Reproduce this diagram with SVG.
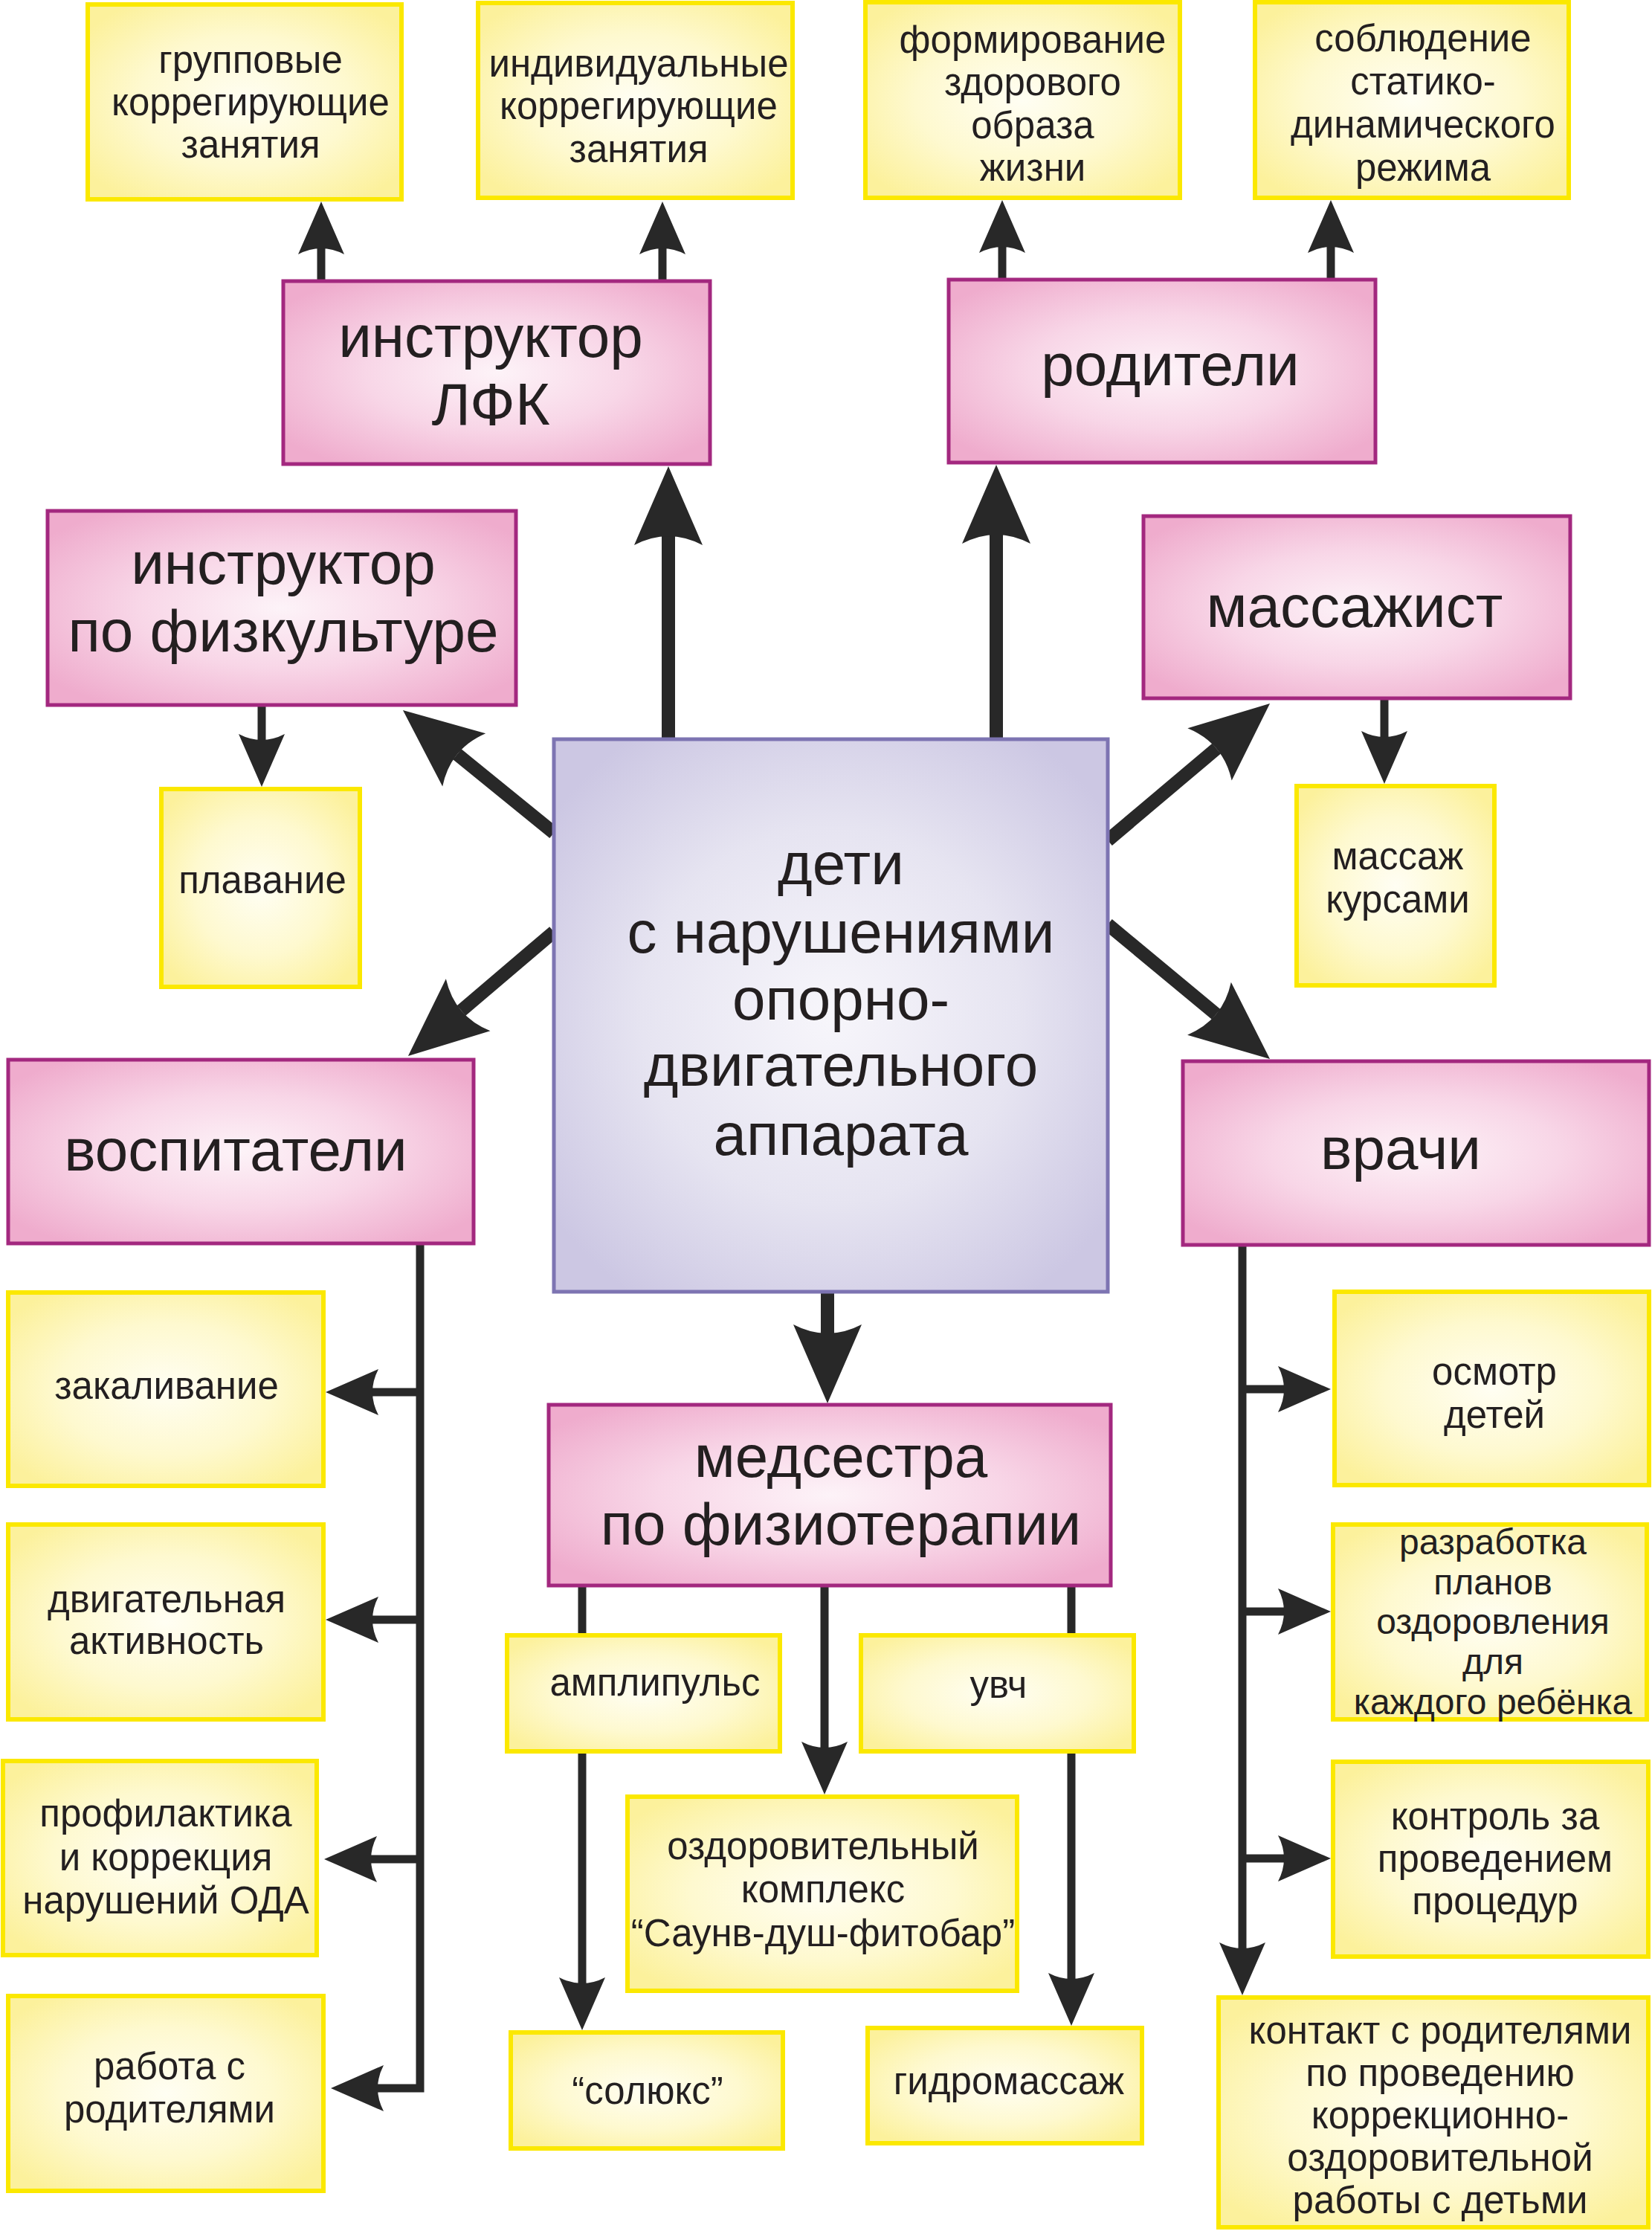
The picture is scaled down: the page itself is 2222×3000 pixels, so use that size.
<svg xmlns="http://www.w3.org/2000/svg" width="2222" height="3000" viewBox="0 0 2222 3000">
<defs>
<radialGradient id="gp" cx="50%" cy="50%" r="62%">
<stop offset="0" stop-color="#fdf3f8"/>
<stop offset="0.5" stop-color="#f8d6e7"/>
<stop offset="1" stop-color="#efaccd"/>
</radialGradient>
<radialGradient id="gy" cx="50%" cy="50%" r="62%">
<stop offset="0" stop-color="#fffef3"/>
<stop offset="0.55" stop-color="#fef9cf"/>
<stop offset="1" stop-color="#fcf19c"/>
</radialGradient>
<radialGradient id="gc" cx="50%" cy="50%" r="62%">
<stop offset="0" stop-color="#f7f6fb"/>
<stop offset="0.55" stop-color="#e6e4f1"/>
<stop offset="1" stop-color="#ccc7e3"/>
</radialGradient>
<marker id="ah" markerUnits="userSpaceOnUse" orient="auto" markerWidth="80" markerHeight="70" viewBox="-10 -35 80 70" refX="0" refY="0" overflow="visible">
<path d="M63,0 L-8,-31 Q8,0 -8,31 Z" fill="#282828"/>
</marker>
<marker id="ahL" markerUnits="userSpaceOnUse" orient="auto" markerWidth="120" markerHeight="100" viewBox="-15 -50 120 100" refX="0" refY="0" overflow="visible">
<path d="M94,0 L-12,-46 Q12,0 -12,46 Z" fill="#282828"/>
</marker>
<style>
.c{fill:none;stroke:#282828;stroke-linejoin:miter}
.thin{stroke-width:11;marker-end:url(#ah)}
.thick{stroke-width:18;marker-end:url(#ahL)}
.br{stroke-width:11}
.pk rect{fill:url(#gp);stroke:#a3287f;stroke-width:5}
.yl rect{fill:url(#gy);stroke:#fbe800;stroke-width:6}
.ce rect{fill:url(#gc);stroke:#7d74b2;stroke-width:5}
text{font-family:"Liberation Sans",Arial,sans-serif;fill:#231f20;text-anchor:middle}
.pk text,.ce text{font-size:80px}
.yl text{font-size:51px}
.yl text.s{font-size:48px}
</style>
</defs>

<g id="connectors">
<path class="c thin" d="M432,376 V334"/>
<path class="c thin" d="M891,376 V334"/>
<path class="c thin" d="M1348,374 V332"/>
<path class="c thin" d="M1790,374 V332"/>
<path class="c thick" d="M899,994 V721"/>
<path class="c thick" d="M1340,994 V719"/>
<path class="c thick" d="M745,1120 L614.9,1014.3"/>
<path class="c thick" d="M745,1253 L620.5,1359"/>
<path class="c thick" d="M1490,1130 L1636.2,1006.6"/>
<path class="c thick" d="M1490,1243 L1635.7,1363.9"/>
<path class="c thick" d="M1113,1737 V1793"/>
<path class="c thin" d="M352,948 V995"/>
<path class="c thin" d="M1862,939 V991"/>
<path class="c thin" d="M565,1672 V2808 H508"/>
<path class="c thin" d="M565,1872 H501"/>
<path class="c thin" d="M565,2178 H501"/>
<path class="c thin" d="M565,2500 H499"/>
<path class="c thin" d="M1671,1674 V2620"/>
<path class="c thin" d="M1671,1868 H1727"/>
<path class="c thin" d="M1671,2167 H1727"/>
<path class="c thin" d="M1671,2499 H1727"/>
<path class="c thin" d="M783,2132 V2667"/>
<path class="c thin" d="M1109,2132 V2350"/>
<path class="c thin" d="M1441,2132 V2661"/>
</g>

<g id="n-gruppovye" class="yl"><rect x="118" y="6" width="422" height="262"/>
<text x="337" y="98">групповые</text><text x="337" y="155">коррегирующие</text><text x="337" y="212">занятия</text></g>
<g id="n-individ" class="yl"><rect x="643" y="4" width="423" height="262"/>
<text x="859" y="103">индивидуальные</text><text x="859" y="160">коррегирующие</text><text x="859" y="218">занятия</text></g>
<g id="n-zozh" class="yl"><rect x="1164" y="3" width="423" height="263"/>
<text x="1389" y="71">формирование</text><text x="1389" y="128">здорового</text><text x="1389" y="186">образа</text><text x="1389" y="243">жизни</text></g>
<g id="n-rezhim" class="yl"><rect x="1688" y="3" width="422" height="263"/>
<text x="1914" y="69">соблюдение</text><text x="1914" y="127">статико-</text><text x="1914" y="185">динамического</text><text x="1914" y="243">режима</text></g>

<g id="n-lfk" class="pk"><rect x="381" y="378" width="574" height="246"/>
<text x="660" y="480">инструктор</text><text x="660" y="571">ЛФК</text></g>
<g id="n-roditeli" class="pk"><rect x="1276" y="376" width="574" height="246"/>
<text x="1574" y="518">родители</text></g>
<g id="n-fizkult" class="pk"><rect x="64" y="687" width="630" height="261"/>
<text x="381" y="785">инструктор</text><text x="381" y="876">по физкультуре</text></g>
<g id="n-massazhist" class="pk"><rect x="1538" y="694" width="574" height="245"/>
<text x="1822" y="843">массажист</text></g>

<g id="n-plavanie" class="yl"><rect x="217" y="1061" width="267" height="266"/>
<text x="353" y="1201">плавание</text></g>
<g id="n-massazh" class="yl"><rect x="1744" y="1057" width="266" height="268"/>
<text x="1880" y="1169">массаж</text><text x="1880" y="1227">курсами</text></g>

<g id="n-center" class="ce"><rect x="745" y="994" width="745" height="743"/>
<text x="1131" y="1189">дети</text><text x="1131" y="1281">с нарушениями</text><text x="1131" y="1371">опорно-</text><text x="1131" y="1460">двигательного</text><text x="1131" y="1553">аппарата</text></g>

<g id="n-vospitateli" class="pk"><rect x="11" y="1425" width="626" height="247"/>
<text x="317" y="1574">воспитатели</text></g>
<g id="n-vrachi" class="pk"><rect x="1591" y="1427" width="627" height="247"/>
<text x="1884" y="1572">врачи</text></g>
<g id="n-medsestra" class="pk"><rect x="738" y="1889" width="756" height="243"/>
<text x="1131" y="1986">медсестра</text><text x="1131" y="2077">по физиотерапии</text></g>

<g id="n-zakalivanie" class="yl"><rect x="11" y="1738" width="424" height="260"/>
<text x="224" y="1881">закаливание</text></g>
<g id="n-dvig" class="yl"><rect x="11" y="2050" width="424" height="262"/>
<text x="224" y="2168">двигательная</text><text x="224" y="2224">активность</text></g>
<g id="n-profilaktika" class="yl"><rect x="4" y="2368" width="422" height="261"/>
<text x="223" y="2456">профилактика</text><text x="223" y="2515">и коррекция</text><text x="223" y="2573">нарушений ОДА</text></g>
<g id="n-rabota" class="yl"><rect x="11" y="2684" width="424" height="262"/>
<text x="228" y="2796">работа с</text><text x="228" y="2854">родителями</text></g>

<g id="n-osmotr" class="yl"><rect x="1795" y="1737" width="423" height="260"/>
<text x="2010" y="1862">осмотр</text><text x="2010" y="1920">детей</text></g>
<g id="n-razrabotka" class="yl"><rect x="1793" y="2050" width="422" height="262"/>
<text class="s" x="2008" y="2090">разработка</text><text class="s" x="2008" y="2144">планов</text><text class="s" x="2008" y="2197">оздоровления</text><text class="s" x="2008" y="2251">для</text><text class="s" x="2008" y="2305">каждого ребёнка</text></g>
<g id="n-kontrol" class="yl"><rect x="1793" y="2369" width="424" height="262"/>
<text x="2011" y="2460">контроль за</text><text x="2011" y="2517">проведением</text><text x="2011" y="2574">процедур</text></g>
<g id="n-kontakt" class="yl"><rect x="1639" y="2686" width="578" height="309"/>
<text x="1937" y="2748">контакт с родителями</text><text x="1937" y="2805">по проведению</text><text x="1937" y="2862">коррекционно-</text><text x="1937" y="2919">оздоровительной</text><text x="1937" y="2976">работы с детьми</text></g>

<g id="n-amplipuls" class="yl"><rect x="682" y="2199" width="367" height="156"/>
<text x="881" y="2280">амплипульс</text></g>
<g id="n-uvch" class="yl"><rect x="1158" y="2199" width="367" height="156"/>
<text x="1343" y="2283">увч</text></g>
<g id="n-kompleks" class="yl"><rect x="844" y="2416" width="524" height="261"/>
<text x="1107" y="2500">оздоровительный</text><text x="1107" y="2558">комплекс</text><text x="1107" y="2617">“Саунв-душ-фитобар”</text></g>
<g id="n-soluks" class="yl"><rect x="687" y="2733" width="366" height="156"/>
<text x="871" y="2829">“солюкс”</text></g>
<g id="n-gidromassazh" class="yl"><rect x="1167" y="2727" width="369" height="155"/>
<text x="1357" y="2816">гидромассаж</text></g>
</svg>
